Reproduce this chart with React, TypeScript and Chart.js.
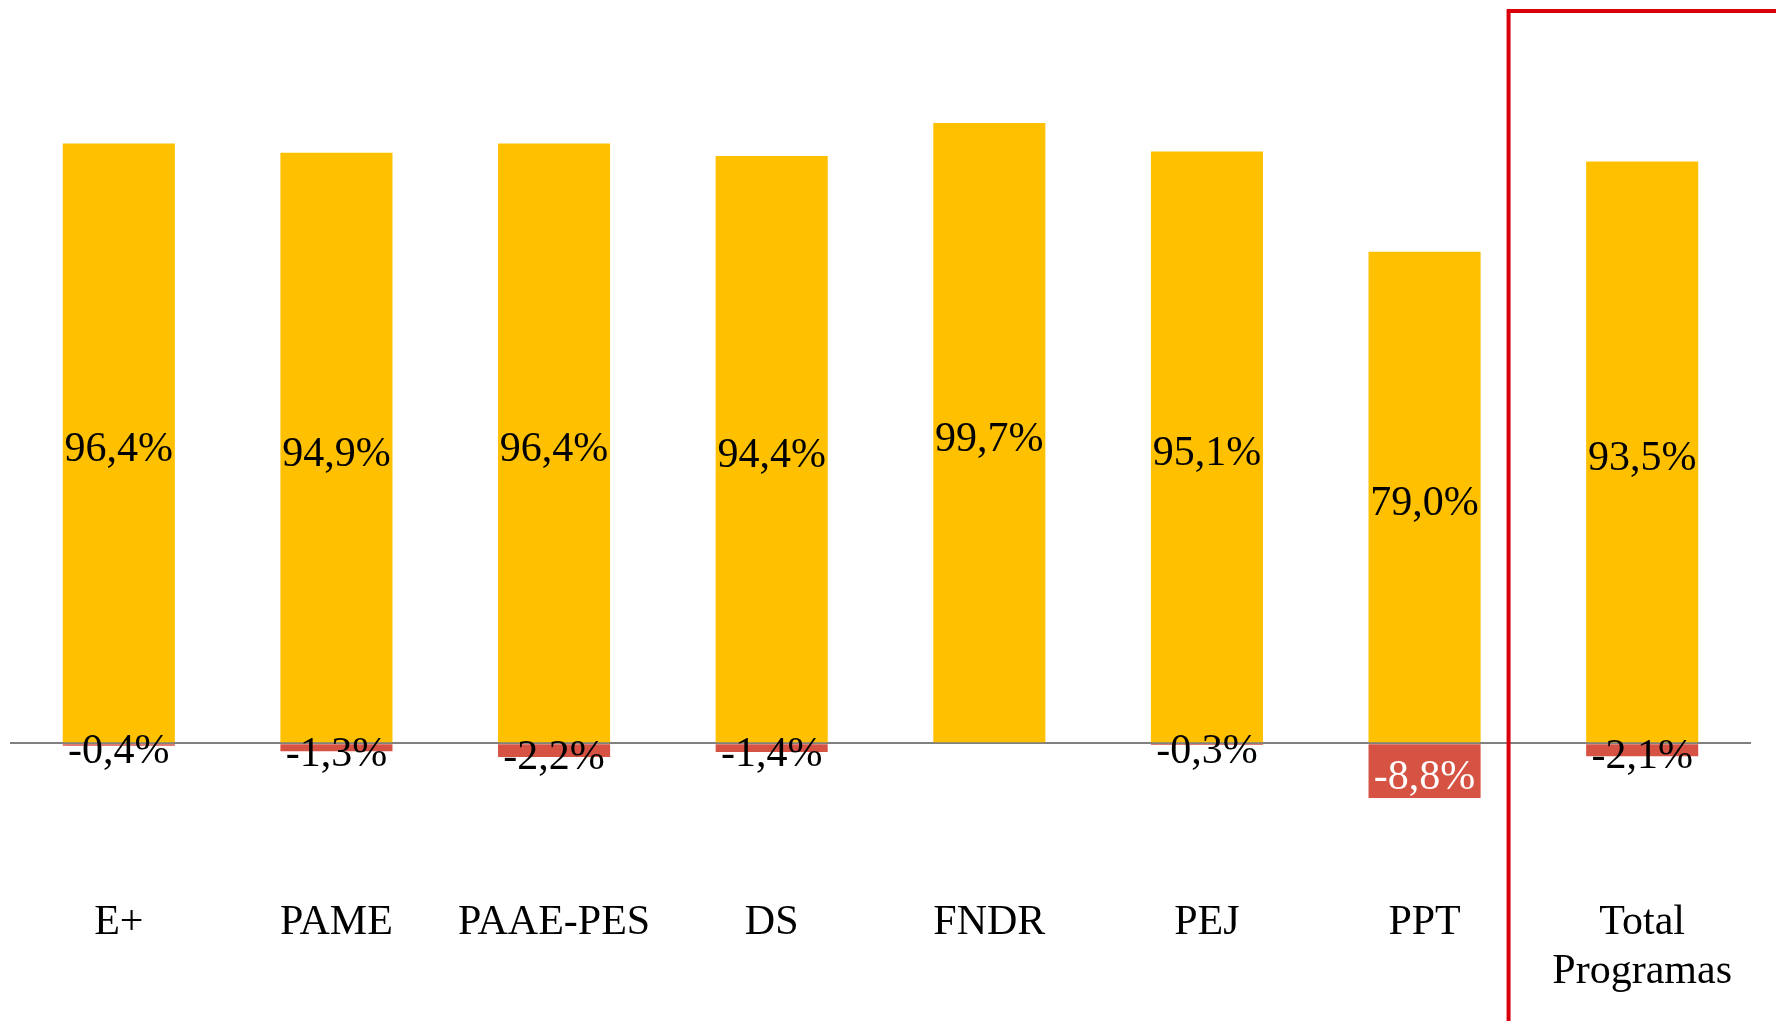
import React, { useEffect, useRef } from "react";
import { Chart, registerables } from "chart.js";

Chart.register(...registerables);

// ---- data ----
const categories: (string | string[])[] = ["E+", "PAME", "PAAE-PES", "DS", "FNDR", "PEJ", "PPT", ["Total", "Programas"]];
const executedValues: number[] = [96.4, 94.9, 96.4, 94.4, 99.7, 95.1, 79.0, 93.5];
const negativeValues: (number | null)[] = [-0.4, -1.3, -2.2, -1.4, null, -0.3, -8.8, -2.1];
const negativeLabelColors: string[] = ["#000000", "#000000", "#000000", "#000000", "#000000", "#000000", "#FFFFFF", "#000000"];
const yMin = -15;
const yMax = 105;

// ---- style ----
const FONT = "'Liberation Serif', 'Times New Roman', serif";
const LABEL_SIZE = 42;
const LABEL_OFFSET = 7;
const YELLOW = "#FFC000";
const RED = "#D65243";
const BOX_RED = "#D9000D";
const BOX_FRACTION = 0.386;

const fmt = (v: number) => v.toFixed(1).replace(".", ",") + "%";

const labelPlugin = {
  id: "barLabels",
  afterDraw(chart: any) {
    const ctx = chart.ctx as CanvasRenderingContext2D;
    ctx.save();
    ctx.font = `${LABEL_SIZE}px ${FONT}`;
    ctx.textAlign = "center";
    ctx.textBaseline = "middle";
    chart.data.datasets.forEach((ds: any, di: number) => {
      const meta = chart.getDatasetMeta(di);
      meta.data.forEach((el: any, i: number) => {
        const v = ds.data[i];
        if (v == null) return;
        const { x, y, base } = el.getProps(["x", "y", "base"], true);
        ctx.fillStyle = di === 0 ? "#000000" : negativeLabelColors[i];
        ctx.fillText(fmt(v), x, (y + base) / 2 + LABEL_OFFSET);
      });
    });
    // highlight frame around the total column
    const xs = chart.scales.x;
    const step = xs.getPixelForValue(7) - xs.getPixelForValue(6);
    const bx = xs.getPixelForValue(6) + step * BOX_FRACTION;
    ctx.strokeStyle = BOX_RED;
    ctx.lineWidth = 4;
    ctx.lineJoin = "miter";
    ctx.lineCap = "butt";
    ctx.beginPath();
    ctx.moveTo(bx, chart.height);
    ctx.lineTo(bx, 11);
    ctx.lineTo(chart.width + 4, 11);
    ctx.stroke();
    ctx.restore();
  },
};

export default function App() {
  const ref = useRef<HTMLCanvasElement | null>(null);

  useEffect(() => {
    document.body.style.margin = "0";
    document.body.style.background = "#FFFFFF";
    if (!ref.current) return;
    const chart = new Chart(ref.current, {
      type: "bar",
      data: {
        labels: categories as any,
        datasets: [
          {
            data: executedValues,
            backgroundColor: YELLOW,
            borderWidth: 0,
            stack: "s",
            barPercentage: 0.515,
            categoryPercentage: 1.0,
          },
          {
            data: negativeValues as any,
            backgroundColor: RED,
            borderWidth: 0,
            stack: "s",
            barPercentage: 0.515,
            categoryPercentage: 1.0,
          },
        ],
      },
      options: {
        responsive: false,
        animation: false,
        devicePixelRatio: 1,
        layout: { padding: { top: 90, left: 10, right: 25, bottom: -37 } },
        plugins: {
          legend: { display: false },
          tooltip: { enabled: false },
        },
        scales: {
          x: {
            stacked: true,
            grid: { display: false, drawTicks: false },
            border: { display: false },
            afterFit: (scale: any) => {
              scale.paddingLeft = 0;
              scale.paddingRight = 0;
            },
            ticks: {
              color: "#000000",
              font: { family: FONT, size: 42, lineHeight: 1.16 },
              padding: 62,
              maxRotation: 0,
              autoSkip: false,
            },
          },
          y: {
            stacked: true,
            min: yMin,
            max: yMax,
            z: 1,
            border: { display: false },
            ticks: { display: false, stepSize: 5 },
            grid: {
              drawTicks: false,
              lineWidth: 2,
              color: (c: any) => (c.tick && c.tick.value === 0 ? "#808080" : "rgba(0,0,0,0)"),
            },
          },
        },
      },
      plugins: [labelPlugin],
    });
    return () => chart.destroy();
  }, []);

  return <canvas ref={ref} width={1776} height={1021} style={{ display: "block", width: 1776, height: 1021 }} />;
}
